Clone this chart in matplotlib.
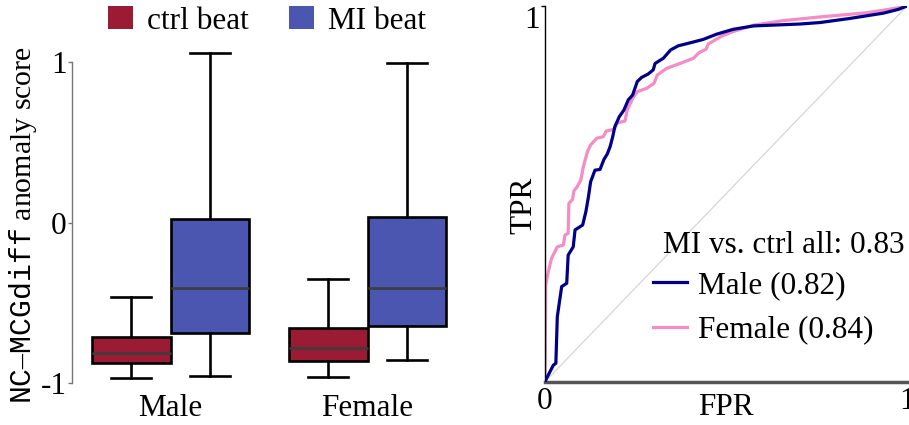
import matplotlib
matplotlib.use("Agg")
import matplotlib.pyplot as plt
import numpy as np
from matplotlib.patches import Patch
from matplotlib.lines import Line2D

# COLORS
CTRL_COLOR = "#9b1b34"
MI_COLOR = "#4a56af"
MALE_COLOR = "#00008b"
FEMALE_COLOR = "#f58cc3"

FONT_SIZE = 22.5

plt.rcParams.update({
    "font.family": ["Liberation Serif", "DejaVu Serif"],
    "mathtext.fontset": "custom",
    "mathtext.rm": "Liberation Serif",
    "mathtext.tt": "Liberation Mono",
    "font.size": FONT_SIZE,
})

# ==========================
# DATA
# ==========================

groups = ["Male", "Female"]
conditions = ["ctrl beat", "MI beat"]

# box stats per group: [ctrl, MI]
whisker_low = [[-0.967, -0.955], [-0.959, -0.855]]
q1 = [[-0.874, -0.689], [-0.859, -0.642]]
median = [[-0.810, -0.410], [-0.782, -0.410]]
q3 = [[-0.712, 0.022], [-0.658, 0.032]]
whisker_high = [[-0.463, 1.052], [-0.353, 0.995]]

# ROC curves
male_fpr = [0.0, 0.006, 0.023, 0.030, 0.034, 0.046, 0.060, 0.064, 0.078, 0.083,
            0.104, 0.113, 0.120, 0.126, 0.138, 0.152, 0.163, 0.172, 0.180, 0.187,
            0.193, 0.205, 0.218, 0.230, 0.242, 0.255, 0.267, 0.285, 0.299, 0.304,
            0.327, 0.347, 0.368, 0.401, 0.437, 0.474, 0.520, 0.576, 0.704, 0.760,
            0.843, 0.935, 0.976, 1.0]
male_tpr = [0.0, 0.012, 0.044, 0.049, 0.173, 0.253, 0.262, 0.337, 0.359, 0.404,
            0.417, 0.453, 0.492, 0.532, 0.563, 0.565, 0.592, 0.606, 0.626, 0.652,
            0.679, 0.705, 0.723, 0.750, 0.763, 0.799, 0.810, 0.819, 0.830, 0.847,
            0.861, 0.883, 0.894, 0.902, 0.911, 0.925, 0.938, 0.947, 0.952, 0.956,
            0.967, 0.981, 0.991, 1.0]

female_fpr = [0.0, 0.002, 0.009, 0.018, 0.034, 0.051, 0.055, 0.064, 0.066, 0.076,
              0.080, 0.089, 0.099, 0.106, 0.117, 0.126, 0.143, 0.161, 0.169, 0.191,
              0.200, 0.221, 0.227, 0.242, 0.255, 0.281, 0.301, 0.310, 0.336, 0.373,
              0.410, 0.426, 0.445, 0.451, 0.488, 0.520, 0.576, 0.658, 0.750, 0.889,
              0.981, 1.0]
female_tpr = [0.0, 0.257, 0.293, 0.328, 0.359, 0.364, 0.390, 0.395, 0.475, 0.485,
              0.508, 0.519, 0.537, 0.572, 0.612, 0.630, 0.648, 0.652, 0.667, 0.672,
              0.689, 0.694, 0.723, 0.754, 0.772, 0.781, 0.794, 0.816, 0.834, 0.847,
              0.861, 0.876, 0.885, 0.899, 0.920, 0.932, 0.949, 0.961, 0.970, 0.982,
              0.996, 1.0]

auc_all = 0.83
auc_male = 0.82
auc_female = 0.84

# ==========================
# FIGURE
# ==========================

fig = plt.figure(figsize=(9.09, 4.25), dpi=100)
ax1 = fig.add_axes([72 / 909, 40 / 425, 394 / 909, 345 / 425])
ax2 = fig.add_axes([545 / 909, 43.3 / 425, 362 / 909, 375.7 / 425])

# --------------------------
# BOX PLOT
# --------------------------

colors = [CTRL_COLOR, MI_COLOR]
offsets = [-0.2, 0.2]

for g in range(len(groups)):
    for c in range(len(conditions)):
        stats = [{
            "whislo": whisker_low[g][c],
            "q1": q1[g][c],
            "med": median[g][c],
            "q3": q3[g][c],
            "whishi": whisker_high[g][c],
            "fliers": [],
        }]
        ax1.bxp(
            stats,
            positions=[g + offsets[c]],
            widths=0.4,
            capwidths=0.2,
            patch_artist=True,
            showfliers=False,
            boxprops=dict(facecolor=colors[c], edgecolor="black", linewidth=1.9),
            medianprops=dict(color="#3d3d3d", linewidth=1.9),
            whiskerprops=dict(color="black", linewidth=1.9),
            capprops=dict(color="black", linewidth=1.9),
        )

ax1.set_xlim(-0.5, 1.5)
ax1.set_ylim(-1.0106, 1.135)
ax1.set_xticks([0, 1])
ax1.set_xticklabels(groups)
ax1.set_yticks([-1, 0, 1])
ax1.set_yticklabels(["-1", "0", "1"])
ax1.tick_params(axis="x", length=0, pad=6.5)
ax1.tick_params(axis="y", length=3, width=1, color="#777777", pad=1)

for side in ["top", "right", "bottom"]:
    ax1.spines[side].set_visible(False)
ax1.spines["left"].set_bounds(-1, 1)
ax1.spines["left"].set_color("#777777")
ax1.spines["left"].set_linewidth(1)

ax1.set_ylabel(r"$\mathtt{NC}$" + "\u2013" + r"$\mathtt{MCGdiff}$ anomaly score",
               fontsize=21.5)
ax1.yaxis.set_label_coords(-0.085, 0.464)

legend_handles = [Patch(facecolor=CTRL_COLOR, edgecolor="none"),
                  Patch(facecolor=MI_COLOR, edgecolor="none")]
fig.legend(
    legend_handles,
    conditions,
    loc="center",
    bbox_to_anchor=(267 / 909, 1 - 21 / 425),
    ncol=2,
    frameon=False,
    handlelength=0.8,
    handleheight=0.75,
    handletextpad=0.45,
    columnspacing=1.27,
    fontsize=FONT_SIZE,
)

# --------------------------
# ROC CURVES
# --------------------------

ax2.plot([0, 1], [0, 1], color="#d6d6d6", linewidth=0.9, zorder=1)
ax2.plot(male_fpr, male_tpr, color=MALE_COLOR, linewidth=2.3,
         label=f"Male ({auc_male:.2f})", zorder=3)
ax2.plot(female_fpr, female_tpr, color=FEMALE_COLOR, linewidth=2.3,
         label=f"Female ({auc_female:.2f})", zorder=2)

ax2.set_xlim(0, 1)
ax2.set_ylim(0, 1)
ax2.set_xticks([0, 1])
ax2.set_xticklabels(["0", "1"])
ax2.set_yticks([1])
ax2.set_yticklabels(["1"], va="top")
ax2.tick_params(axis="x", length=0, pad=4)
ax2.tick_params(axis="y", length=3, width=1, pad=1)

for side in ["top", "right"]:
    ax2.spines[side].set_visible(False)
ax2.spines["left"].set_color("black")
ax2.spines["left"].set_linewidth(1)
ax2.spines["bottom"].set_color("#555555")
ax2.spines["bottom"].set_linewidth(2.5)

ax2.set_xlabel("FPR", labelpad=-17)
ax2.set_ylabel("TPR")
ax2.yaxis.set_label_coords(-0.019, 0.47)

ax2.text(0.326, 0.3426, f"MI vs. ctrl all: {auc_all:.2f}",
         transform=ax2.transAxes, ha="left", va="baseline", fontsize=FONT_SIZE)

ax2.legend(
    loc="upper left",
    bbox_to_anchor=(0.298, 0.295),
    frameon=False,
    fontsize=FONT_SIZE,
    handlelength=1.1,
    handletextpad=0.35,
    labelspacing=0.5,
    borderpad=0,
    borderaxespad=0,
)

plt.savefig("out.png", dpi=100)
plt.close()
